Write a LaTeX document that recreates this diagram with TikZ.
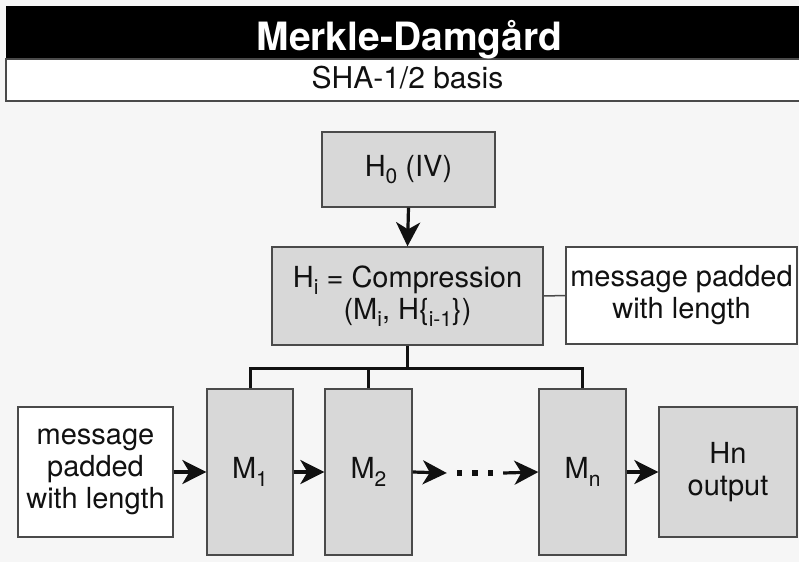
\documentclass[tikz,border=0pt]{standalone}
\usepackage{fontspec}
\setmainfont{TeX Gyre Heros}
\usetikzlibrary{arrows.meta}
\definecolor{bgcol}{HTML}{F6F6F6}
\definecolor{boxfill}{HTML}{D8D8D8}
\definecolor{boxline}{HTML}{4A4A4A}
\definecolor{ink}{HTML}{111111}
% lowered subscript, larger than \textsubscript
\newcommand{\lowsub}[1]{\raisebox{-0.26em}{\fontsize{21}{21}\selectfont #1}}
\begin{document}
\begin{tikzpicture}[x=1pt,y=-1pt,
  boxed/.style={draw=boxline, line width=1.3pt, fill=boxfill, inner sep=0pt,
    align=center, text=ink, font=\fontsize{29}{32}\selectfont},
  plainbox/.style={boxed, fill=white},
  arr/.style={draw=ink, line width=3.2pt,
    -{Stealth[length=24pt,width=24pt,inset=7pt]}},
  link/.style={line width=3pt, draw=ink},
  thinlink/.style={line width=1.5pt, draw=boxline}]
\useasboundingbox (0,0) rectangle (799,562);
\fill[bgcol] (0,0) rectangle (799,562);

% header
\fill[black] (6,6) rectangle (800,59);
\draw[boxline, line width=1.2pt, fill=white] (6,59) rectangle (800,101);
\node[anchor=base, text=white, font=\fontsize{39}{42}\selectfont\bfseries] (title) at (409.5,50) {Merkle-Damgård};
\node[anchor=base, text=ink, font=\fontsize{30}{32}\selectfont] (subtitle) at (407.5,88) {SHA-1/2 basis};

% upper part
\node[boxed, minimum width=173pt, minimum height=75pt] (h0) at (408.5,169.5) {H\lowsub{0} (IV)};
\node[boxed, minimum width=271pt, minimum height=98pt] (comp) at (407.5,296)
  {H\lowsub{i} = Compression\\(M\lowsub{i}, H\{\lowsub{i-1}\})};
\node[plainbox, minimum width=231pt, minimum height=97pt] (side) at (681.5,295.5)
  {message padded\\with length};

% lower chain
\node[plainbox, minimum width=155pt, minimum height=130pt] (msg) at (95.5,472)
  {message\\padded\\with length};
\node[boxed, minimum width=86pt, minimum height=166pt] (m1) at (250,472) {M\lowsub{1}};
\node[boxed, minimum width=87pt, minimum height=166pt] (m2) at (368.5,472) {M\lowsub{2}};
\node[minimum width=56pt, minimum height=10pt, inner sep=0pt] (dots) at (475,473) {};
\node[boxed, minimum width=87pt, minimum height=166pt] (mn) at (582.5,472) {M\lowsub{n}};
\node[boxed, minimum width=138pt, minimum height=130pt] (hn) at (728,472) {Hn\\output};

\foreach \dx in {-15.5,0,15.5}
  \fill[ink] ([xshift=\dx pt]dots.center) +(-2.8,-2.8) rectangle +(2.8,2.8);

% connectors
\draw[arr] (h0.south) -- (comp.north);
\draw[thinlink] (comp.east) -- (side.west);
\coordinate (bar) at (407.5,368);
\draw[link] (comp.south) -- (bar);
\draw[link] (m1.north) |- (mn.north |- bar) -- (mn.north);
\draw[link] (m2.north) -- (m2.north |- bar);

\draw[arr] (msg.east) -- (m1.west);
\draw[arr] (m1.east) -- (m2.west);
\draw[arr] (m2.east) -- (dots.west);
\draw[arr] (dots.east) -- (mn.west);
\draw[arr] (mn.east) -- (hn.west);
\end{tikzpicture}
\end{document}
